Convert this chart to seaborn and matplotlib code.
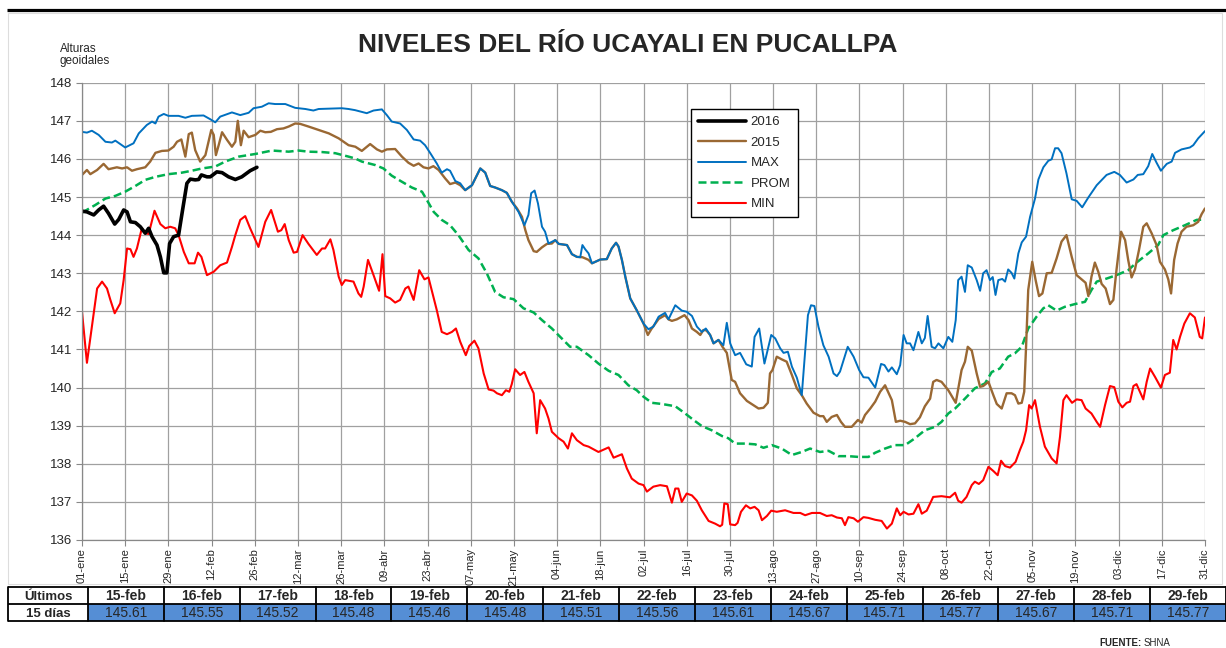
import numpy as np
import pandas as pd
import matplotlib
matplotlib.use("Agg")
import matplotlib.pyplot as plt
from matplotlib.patches import Rectangle
from matplotlib.lines import Line2D
import seaborn as sns

# ---------------- DATA ----------------
tick_days = [0, 14, 28, 42, 56, 70, 84, 98, 112, 126, 140, 154, 168, 182, 196,
             210, 224, 238, 252, 266, 280, 294, 308, 322, 336, 350, 364]
tick_labels = ["01-ene", "15-ene", "29-ene", "12-feb", "26-feb", "12-mar", "26-mar",
               "09-abr", "23-abr", "07-may", "21-may", "04-jun", "18-jun", "02-jul",
               "16-jul", "30-jul", "13-ago", "27-ago", "10-sep", "24-sep", "08-oct",
               "22-oct", "05-nov", "19-nov", "03-dic", "17-dic", "31-dic"]

days_2016 = [0, 1.6, 3.8, 5.4, 7, 8.6, 10.6, 11.9, 13.5, 14.6, 15.7, 17.3, 18.9, 20.5,
             21.6, 22.7, 24.3, 25.4, 26.5, 27.5, 28.4, 29.7, 31.3, 32.6, 34, 35.1, 36.7,
             37.8, 38.7, 40.5, 41.6, 43.7, 45.4, 47.5, 49.7, 51.8, 54.5, 56.7]
vals_2016 = [144.63, 144.61, 144.53, 144.66, 144.76, 144.57, 144.29, 144.41, 144.66,
             144.61, 144.35, 144.33, 144.22, 144.05, 144.18, 143.96, 143.74, 143.43,
             143.01, 143.01, 143.78, 143.96, 144.00, 144.66, 145.36, 145.47, 145.45,
             145.46, 145.58, 145.53, 145.53, 145.66, 145.64, 145.53, 145.46, 145.53,
             145.69, 145.78]

days_2015 = [0, 1.6, 2.7, 4.9, 7, 8.6, 11.3, 13, 14.6, 16.2, 17.8, 19.4, 20.5, 22.1, 23.8,
             25.9, 28, 29.7, 30.8, 32.2, 33.5, 34.6, 35.6, 36.7, 38.3, 40, 41, 41.9, 42.7,
             43.4, 44.3, 45.4, 47, 48.6, 49.7, 50.5, 51.5, 52.4, 54, 56.2, 57.8, 59.4,
             61.2, 63.2, 65.3, 67, 69.1, 70.7, 73.4, 76.7, 80, 83.2, 86.4, 88.6, 90.7,
             93.4, 95.6, 97.2, 98.8, 101.5, 103.7, 105.8, 107.5, 109.1, 110.7, 112.3,
             113.9, 115.6, 117.7, 119.3, 121, 122.6, 124.2, 126.4, 129.1, 130.7, 132.3,
             133.9, 136.1, 137.7, 139.3, 141, 142.6, 143.7, 144.7, 146.4, 147.4, 149.1,
             150.7, 152.3, 153.4, 154.5, 157.2, 158.8, 160.4, 162.2, 163.1, 164.2,
             165.3, 168, 170.1, 171.7, 173.1, 173.9, 175, 176.1, 177.7, 179.8, 182,
             183.4, 184.5, 186.9, 189, 190.1, 191.2, 192.8, 195.3, 196.6, 197.7, 199.3,
             200.4, 201.4, 202.4, 203.6, 204.7, 206.3, 207.6, 209, 210.6, 211.7, 213.3,
             215.5, 217.6, 219.3, 220.9, 222.3, 223, 223.8, 225.2, 226.8, 228.4, 230.1,
             231.7, 233.3, 234.9, 237.1, 239.2, 240.3, 241.4, 243, 244.7, 246, 247.3,
             249.5, 251.5, 252.7, 253.8, 255.5, 257.1, 258.7, 260.3, 262.5, 263.8,
             265.2, 266.8, 268.4, 270, 271.6, 273.2, 274.9, 275.9, 277, 278.6, 280.8,
             283.2, 285.1, 286.2, 287.1, 288.4, 290, 291.1, 292.1, 293.8, 295.4, 296.5,
             298.1, 299.7, 301.3, 302.4, 303.5, 304.6, 305.4, 306, 306.7, 308, 309.1,
             310.2, 311.3, 312.7, 314.3, 315.9, 317.5, 319.1, 320.8, 322.4, 324, 325.3,
             326.2, 327.2, 328.3, 329.4, 330.5, 331.8, 333.2, 334.3, 335.3, 336.8,
             338.1, 339.1, 340.2, 341.3, 342.6, 344, 345.1, 346.7, 348.3, 349.4, 351,
             352.1, 353, 354, 355.1, 356.4, 358, 360.2, 361.8, 362.9, 364]
vals_2015 = [145.58, 145.71, 145.60, 145.71, 145.87, 145.73, 145.78, 145.75, 145.78,
             145.69, 145.73, 145.76, 145.78, 145.93, 146.16, 146.21, 146.22, 146.32,
             146.45, 146.51, 146.06, 146.65, 146.69, 146.23, 145.93, 146.10, 146.45,
             146.76, 146.63, 146.10, 146.36, 146.70, 146.50, 146.32, 146.45, 147.00,
             146.36, 146.74, 146.57, 146.63, 146.74, 146.70, 146.71, 146.78, 146.80,
             146.85, 146.93, 146.92, 146.85, 146.76, 146.67, 146.54, 146.36, 146.32,
             146.21, 146.39, 146.25, 146.19, 146.25, 146.26, 146.06, 145.90, 145.82,
             145.88, 145.78, 145.75, 145.81, 145.71, 145.49, 145.34, 145.38, 145.31,
             145.18, 145.31, 145.75, 145.64, 145.29, 145.25, 145.18, 145.11, 144.88,
             144.70, 144.48, 144.13, 143.87, 143.58, 143.56, 143.68, 143.77, 143.78,
             143.87, 143.77, 143.74, 143.50, 143.43, 143.42, 143.39, 143.35, 143.26,
             143.36, 143.37, 143.65, 143.80, 143.70, 143.35, 142.91, 142.34, 142.03,
             141.68, 141.38, 141.53, 141.80, 141.90, 141.79, 141.75, 141.79, 141.90,
             141.77, 141.55, 141.46, 141.38, 141.51, 141.50, 141.38, 141.16, 141.25,
             141.07, 140.91, 140.20, 140.15, 139.85, 139.65, 139.54, 139.45, 139.47,
             139.60, 140.37, 140.46, 140.81, 140.74, 140.68, 140.33, 139.98, 139.80,
             139.58, 139.34, 139.25, 139.25, 139.10, 139.23, 139.28, 139.10, 138.97,
             138.97, 139.15, 139.08, 139.28, 139.45, 139.63, 139.89, 140.06, 139.67,
             139.10, 139.13, 139.10, 139.04, 139.06, 139.22, 139.51, 139.71, 140.15,
             140.20, 140.15, 139.93, 139.60, 140.46, 140.68, 141.07, 140.97, 140.37,
             140.02, 140.04, 140.15, 139.80, 139.57, 139.45, 139.85, 139.85, 139.80,
             139.58, 139.60, 139.89, 141.07, 142.56, 143.30, 142.82, 142.40, 142.47,
             143.00, 143.01, 143.39, 143.83, 144.00, 143.43, 142.95, 142.84, 142.75,
             142.40, 142.91, 143.28, 143.04, 142.72, 142.60, 142.19, 142.30, 143.08,
             144.09, 143.87, 143.35, 142.89, 143.10, 143.61, 144.22, 144.31, 144.05,
             143.74, 143.30, 143.10, 142.84, 142.47, 143.35, 143.78, 144.09, 144.22,
             144.26, 144.35, 144.55, 144.70]

days_max = [0, 1.6, 3.2, 5.4, 7.6, 9.7, 10.8, 12.4, 14, 16.7, 18.4, 21, 22.7, 23.8, 24.8,
            26.5, 28, 31.3, 33.5, 35.6, 39.4, 41.6, 43.2, 44.8, 48.6, 51.3, 54, 55.6,
            58.3, 60.5, 62.6, 65.9, 69.1, 72.4, 75, 76.7, 80, 84.2, 86.4, 88.5, 92.3,
            94.5, 97.2, 98.8, 100.4, 103.1, 105.3, 107.5, 109.6, 111.2, 112.9, 115,
            116.6, 118.3, 119.3, 121, 122.6, 124.2, 126.4, 129.1, 130.7, 132.3, 133.9,
            136.1, 137.7, 139.3, 141.5, 143.4, 144.7, 145.6, 146.7, 147.8, 149.1, 150.1,
            151.2, 153.4, 154.5, 157.2, 158.8, 160.4, 161.5, 162.2, 163.1, 164.2, 165.3,
            168, 170.1, 171.7, 173.1, 173.9, 175, 176.1, 177.7, 179.8, 182, 183.6,
            185.2, 186.9, 189, 190.1, 192.3, 194.4, 196, 197.7, 199.3, 200.9, 202.2,
            203.6, 204.7, 206.3, 207.9, 209, 210.1, 211.7, 213.3, 215.3, 217.1, 218,
            219.5, 221.2, 223.4, 224.7, 226.3, 227.4, 228.8, 230.1, 231.7, 233.3, 235.3,
            236.3, 237.4, 238.7, 240.3, 242, 243.6, 244.7, 245.7, 248.2, 250.1, 251.9,
            253.3, 254.9, 257.1, 259, 260.1, 261.4, 262.5, 264.1, 265.2, 266.3, 267.3,
            268.4, 269.5, 271.1, 272.2, 273.2, 274.1, 275.4, 276.5, 277.6, 279.2, 280.8,
            282.1, 283.2, 284, 285.1, 286.2, 287.1, 288.4, 290, 291.1, 292.1, 293.2,
            294.3, 295.2, 296.1, 297, 298.3, 299.2, 300.2, 301.3, 302.2, 303.5, 304.6,
            306, 307.3, 308.9, 310, 311.6, 313.2, 314.3, 315.4, 316.4, 317.5, 319.1,
            320.8, 322.4, 324.2, 326.2, 328.9, 332.1, 334.6, 336.4, 338.6, 340.8, 342.2,
            344, 345.6, 346.9, 348.3, 349.7, 351.6, 353.2, 354.3, 356.4, 359.1, 360.2,
            361.8, 364]
vals_max = [146.71, 146.69, 146.74, 146.63, 146.45, 146.43, 146.48, 146.39, 146.30,
            146.41, 146.67, 146.89, 146.98, 146.93, 147.11, 147.18, 147.13, 147.13,
            147.08, 147.13, 147.14, 147.04, 146.96, 147.11, 147.22, 147.15, 147.21,
            147.33, 147.37, 147.46, 147.44, 147.44, 147.34, 147.31, 147.27, 147.31,
            147.32, 147.33, 147.31, 147.28, 147.20, 147.27, 147.30, 147.15, 146.98,
            146.93, 146.76, 146.51, 146.48, 146.36, 146.15, 145.88, 145.64, 145.73,
            145.69, 145.42, 145.36, 145.18, 145.31, 145.75, 145.64, 145.29, 145.25,
            145.18, 145.11, 144.88, 144.61, 144.26, 144.53, 145.10, 145.17, 144.83,
            144.22, 144.09, 143.78, 143.87, 143.77, 143.74, 143.50, 143.43, 143.42,
            143.74, 143.63, 143.52, 143.26, 143.36, 143.37, 143.65, 143.80, 143.70,
            143.35, 142.91, 142.34, 142.03, 141.68, 141.53, 141.60, 141.86, 141.96,
            141.79, 142.16, 142.02, 141.99, 141.88, 141.60, 141.46, 141.55, 141.38,
            141.16, 141.25, 141.11, 141.70, 141.16, 140.85, 140.91, 140.61, 140.55,
            141.33, 141.55, 140.63, 141.38, 141.29, 141.03, 140.91, 140.94, 140.55,
            140.26, 139.80, 141.90, 142.16, 142.14, 141.60, 141.11, 140.81, 140.37,
            140.30, 140.42, 141.07, 140.81, 140.46, 140.27, 140.26, 140.00, 140.62,
            140.59, 140.42, 140.53, 140.35, 140.59, 141.38, 141.16, 141.16, 140.98,
            141.46, 141.16, 141.30, 141.88, 141.07, 141.03, 141.16, 141.03, 141.33,
            141.20, 141.77, 142.82, 142.91, 142.51, 143.21, 143.15, 142.82, 142.54,
            143.00, 143.08, 142.82, 142.90, 142.43, 142.82, 142.85, 142.78, 143.10,
            143.01, 142.86, 143.52, 143.81, 143.96, 144.48, 144.96, 145.46, 145.78,
            145.95, 145.99, 146.28, 146.28, 146.15, 145.62, 144.94, 144.90, 144.73,
            144.99, 145.31, 145.58, 145.66, 145.58, 145.38, 145.46, 145.58, 145.60,
            145.81, 146.13, 145.90, 145.69, 145.87, 145.93, 146.16, 146.25, 146.30,
            146.36, 146.54, 146.73]

days_prom = [0, 4.3, 7.6, 10.8, 14, 17.3, 20.5, 23.8, 28, 32.4, 35.6, 38.9, 43.2, 46.4,
             50.8, 56.2, 61.6, 67, 70.2, 73.4, 77.8, 82.1, 86.4, 88.6, 90.7, 95, 97.7,
             100.4, 103.7, 106.9, 110.2, 111.8, 114, 116.6, 119.3, 122, 125.3, 128.5,
             131.2, 133.9, 136.6, 139.9, 143.1, 146.4, 149.1, 152.3, 155, 158.2, 160.4,
             164.2, 167.4, 170.7, 173.9, 177.1, 179.8, 182, 184.7, 187.9, 192.3, 195.5,
             198.2, 200.9, 204.1, 207.4, 209.5, 211.7, 215, 218.2, 220.9, 223.6, 226.8,
             230.1, 233.3, 236, 239.2, 242, 245.2, 248.4, 251.7, 254.9, 257.1, 260.3,
             263.5, 266.8, 270, 273.2, 276.5, 278.6, 280.8, 283, 286.2, 289.4, 292.7,
             294.9, 297.5, 300.2, 302.4, 304.6, 306.7, 309.4, 311.6, 313.2, 315.9,
             318.6, 321.8, 325.1, 327.2, 328.9, 332.1, 335.3, 339.1, 341.8, 345.6,
             348.8, 350.5, 353.7, 357.5, 361.3, 364]
vals_prom = [144.59, 144.79, 144.96, 145.03, 145.14, 145.29, 145.45, 145.53, 145.60,
             145.64, 145.69, 145.75, 145.80, 145.93, 146.06, 146.13, 146.22, 146.19,
             146.22, 146.19, 146.18, 146.15, 146.06, 146.01, 145.93, 145.84, 145.75,
             145.56, 145.40, 145.25, 145.14, 144.92, 144.61, 144.40, 144.26, 144.00,
             143.61, 143.39, 143.00, 142.51, 142.37, 142.32, 142.08, 141.97, 141.77,
             141.55, 141.33, 141.07, 141.07, 140.85, 140.63, 140.44, 140.33, 140.06,
             139.93, 139.76, 139.60, 139.57, 139.51, 139.32, 139.15, 138.99, 138.88,
             138.73, 138.67, 138.53, 138.53, 138.51, 138.42, 138.49, 138.40, 138.23,
             138.31, 138.40, 138.31, 138.34, 138.20, 138.20, 138.18, 138.18, 138.29,
             138.40, 138.49, 138.49, 138.67, 138.88, 138.97, 139.10, 139.32, 139.45,
             139.71, 139.98, 140.11, 140.41, 140.50, 140.81, 140.90, 141.07, 141.55,
             141.86, 142.08, 142.16, 142.02, 142.12, 142.19, 142.25, 142.56, 142.78,
             142.86, 142.95, 143.08, 143.28, 143.52, 143.74, 144.00, 144.13, 144.26,
             144.40, 144.41]

days_min = [0, 1.6, 3.2, 4.9, 6.5, 8.1, 9.2, 10.6, 12.4, 13.5, 14.6, 15.7, 16.7, 17.8,
            19.4, 20.5, 21.6, 23.5, 25.4, 27, 28.6, 30.2, 31.3, 33, 34.6, 36.5, 37.6,
            38.7, 40.5, 42.7, 44.8, 47, 48.6, 49.7, 51.3, 52.9, 54.5, 57.2, 59.4, 61.3,
            63.5, 64.6, 65.7, 67, 68.6, 69.7, 71.5, 73.4, 76.1, 77.8, 78.8, 80.5, 81.5,
            83.2, 84.2, 85.3, 88, 89.6, 90.5, 91.3, 92.7, 94.5, 96.3, 97.4, 98.3, 99.9,
            101.5, 103.1, 104.8, 105.8, 107.5, 109.3, 111, 112.3, 115, 116.6, 118.3,
            119.9, 121.2, 122.6, 124.4, 125.5, 127.2, 128.5, 130.2, 131.8, 133.4, 134.5,
            136.1, 137.4, 138.5, 139.3, 140.4, 142, 143.4, 144.7, 146.4, 147.4, 148.5,
            150.1, 151.2, 152.3, 154.5, 156.1, 157.5, 158.8, 160.4, 162.6, 164.2, 167.4,
            170.7, 172.3, 175, 176.6, 178.2, 180.4, 182, 183.1, 185.2, 187.4, 189.6,
            191.2, 192.3, 193.3, 194.4, 196, 197.7, 199.3, 200.9, 203.1, 205.2, 206.8,
            207.5, 208.2, 209.3, 210.1, 211.7, 212.5, 213.6, 215.2, 216.6, 218, 219.3,
            220.4, 222, 223.4, 225.2, 227.9, 230.6, 232.8, 234.4, 236.6, 239.2, 241.4,
            243, 244.7, 246.3, 247.3, 248.4, 250.1, 251.5, 253.3, 254.9, 257.1, 259.2,
            260.9, 262.5, 264.1, 265.2, 266.3, 267.9, 269.5, 271.1, 272.2, 273.8, 274.9,
            275.9, 278.6, 281.3, 283, 284, 285.1, 286.7, 288.4, 289.4, 290.7, 292.1,
            293.8, 295.4, 296.8, 297.9, 299.2, 300.8, 302.6, 304, 305.1, 306, 307,
            307.8, 308.9, 310.5, 312.1, 314.3, 315.9, 317, 318.1, 319.1, 320.9, 322.4,
            324, 325.3, 327.2, 328.9, 330, 331.6, 333.2, 334.6, 335.9, 337.2, 338.6,
            339.7, 340.8, 341.8, 344, 345.1, 346.2, 347.8, 349.7, 351, 352.6, 353.7,
            354.8, 355.9, 357.3, 359.1, 360.7, 362.3, 363.1, 364]
vals_min = [141.99, 140.65, 141.60, 142.60, 142.78, 142.60, 142.30, 141.95, 142.21,
            142.82, 143.65, 143.63, 143.43, 143.65, 144.18, 144.05, 144.03, 144.64,
            144.29, 144.18, 144.22, 144.18, 144.00, 143.56, 143.26, 143.26, 143.54,
            143.43, 142.95, 143.04, 143.21, 143.28, 143.69, 144.00, 144.40, 144.50,
            144.18, 143.69, 144.35, 144.66, 144.09, 144.13, 144.29, 143.87, 143.54,
            143.56, 144.00, 143.77, 143.48, 143.65, 143.65, 143.89, 143.61, 142.91,
            142.69, 142.82, 142.78, 142.47, 142.38, 142.65, 143.35, 142.95, 142.54,
            143.50, 142.40, 142.34, 142.23, 142.30, 142.60, 142.65, 142.30, 143.08,
            142.84, 142.89, 142.03, 141.46, 141.40, 141.46, 141.55, 141.20, 140.85,
            141.09, 141.23, 141.03, 140.37, 139.95, 139.92, 139.85, 139.80, 139.93,
            139.89, 140.09, 140.48, 140.33, 140.41, 140.15, 139.85, 138.80, 139.67,
            139.45, 139.19, 138.84, 138.67, 138.58, 138.40, 138.80, 138.62, 138.49,
            138.45, 138.31, 138.43, 138.16, 138.25, 137.88, 137.61, 137.48, 137.44,
            137.27, 137.40, 137.44, 137.41, 136.98, 137.35, 137.35, 137.00, 137.22,
            137.17, 137.03, 136.78, 136.50, 136.43, 136.36, 136.40, 136.96, 136.94,
            136.41, 136.39, 136.45, 136.74, 136.91, 136.83, 136.87, 136.78, 136.52,
            136.63, 136.77, 136.74, 136.78, 136.71, 136.71, 136.65, 136.71, 136.71,
            136.63, 136.65, 136.59, 136.57, 136.39, 136.60, 136.57, 136.48, 136.60,
            136.58, 136.53, 136.50, 136.30, 136.43, 136.83, 136.65, 136.74, 136.67,
            136.69, 136.94, 136.69, 136.77, 136.96, 137.13, 137.15, 137.12, 137.24,
            137.03, 136.98, 137.13, 137.44, 137.53, 137.47, 137.57, 137.92, 137.81,
            137.70, 138.08, 137.94, 137.90, 138.05, 138.36, 138.58, 138.88, 139.54,
            139.45, 139.67, 138.97, 138.45, 138.14, 138.01, 138.71, 139.67, 139.80,
            139.60, 139.69, 139.67, 139.45, 139.32, 139.10, 138.97, 139.54, 140.04,
            140.01, 139.63, 139.48, 139.60, 139.63, 140.04, 140.09, 139.69, 140.15,
            140.50, 140.28, 140.00, 140.33, 140.39, 141.25, 141.00, 141.33, 141.68,
            141.95, 141.84, 141.33, 141.29, 141.84]

table_dates = ["15-feb", "16-feb", "17-feb", "18-feb", "19-feb", "20-feb", "21-feb",
               "22-feb", "23-feb", "24-feb", "25-feb", "26-feb", "27-feb", "28-feb",
               "29-feb"]
table_values = [145.61, 145.55, 145.52, 145.48, 145.46, 145.48, 145.51, 145.56, 145.61,
                145.67, 145.71, 145.77, 145.67, 145.71, 145.77]

# ---------------- STYLE ----------------
sns.set_style("white")
plt.rcParams['font.family'] = ['Liberation Sans', 'DejaVu Sans']

W, H = 1226, 648
fig = plt.figure(figsize=(W / 100, H / 100), dpi=100)

# overlay for frame / table (pixel coordinates)
ov = fig.add_axes([0, 0, 1, 1], zorder=0)
ov.set_xlim(0, W)
ov.set_ylim(H, 0)
ov.axis('off')
ov.add_patch(Rectangle((8, 13), 1214, 571, fill=False, edgecolor='#DDDDDD', lw=0.8))
ov.plot([7, W], [10, 10], color='black', lw=2.3, solid_capstyle='butt')

ax = fig.add_axes([82 / W, 1 - 540 / H, (1205 - 82) / W, (540 - 82.7) / H], zorder=2)
ax.patch.set_alpha(0)

colors = {"2016": "black", "2015": "#9A6833", "MAX": "#0070C0",
          "PROM": "#00B050", "MIN": "#FF0000"}
dash = (0, (3.2, 1.6))

sns.lineplot(x=days_min, y=vals_min, ax=ax, color=colors["MIN"], lw=1.5,
             estimator=None, sort=False)
sns.lineplot(x=days_prom, y=vals_prom, ax=ax, color=colors["PROM"], lw=1.8,
             linestyle=dash, estimator=None, sort=False)
sns.lineplot(x=days_2015, y=vals_2015, ax=ax, color=colors["2015"], lw=1.7,
             estimator=None, sort=False)
sns.lineplot(x=days_max, y=vals_max, ax=ax, color=colors["MAX"], lw=1.4,
             estimator=None, sort=False)
sns.lineplot(x=days_2016, y=vals_2016, ax=ax, color=colors["2016"], lw=2.6,
             estimator=None, sort=False)

ax.set_xlim(0, 364)
ax.set_ylim(136, 148)
ax.set_xticks(tick_days)
ax.set_xticklabels(tick_labels, rotation=90, fontsize=8)
ax.set_yticks(range(136, 149))
ax.tick_params(axis='y', labelsize=9.5, length=4, color='#888888', pad=3, direction='out', left=True)
ax.tick_params(axis='x', length=4, color='#888888', pad=2, direction='out', bottom=True)
ax.grid(True, color='#A0A0A0', lw=0.9)
ax.set_axisbelow(True)
for s in ['top', 'right']:
    ax.spines[s].set_visible(False)
for s in ['left', 'bottom']:
    ax.spines[s].set_color('#888888')
    ax.spines[s].set_linewidth(0.9)
ax.set_xlabel("")
ax.set_ylabel("")

handles = [
    Line2D([], [], color=colors["2016"], lw=2.6),
    Line2D([], [], color=colors["2015"], lw=1.7),
    Line2D([], [], color=colors["MAX"], lw=1.4),
    Line2D([], [], color=colors["PROM"], lw=1.8, linestyle=dash),
    Line2D([], [], color=colors["MIN"], lw=1.5),
]
leg = ax.legend(handles, ["2016", "2015", "MAX", "PROM", "MIN"],
                loc='upper left', bbox_to_anchor=(691 / W, 1 - 109 / H),
                bbox_transform=fig.transFigure, fontsize=9.5, handlelength=3.6,
                handletextpad=0.35, labelspacing=0.62, borderpad=0.55,
                borderaxespad=0, fancybox=False, framealpha=1, edgecolor='black')
leg.get_frame().set_linewidth(1.0)

fig.text(0.512, 1 - 45 / H, "NIVELES DEL RÍO UCAYALI EN PUCALLPA", ha='center',
         va='center', fontsize=19, fontweight='bold')
fig.text(60 / W, 1 - 55 / H, "Alturas\ngeoidales", ha='left', va='center',
         fontsize=8.5, linespacing=1.05)

# ---------------- TABLE ----------------
x0, x1 = 88, 1226
cw = (x1 - x0) / len(table_dates)
r0, r1, r2 = 587, 603.5, 620.5
b1, b2 = 600.5, 617.0   # text baselines
for i, (dlab, v) in enumerate(zip(table_dates, table_values)):
    cx = x0 + i * cw
    ov.add_patch(Rectangle((cx, r1), cw, r2 - r1, facecolor='#558ED5', edgecolor='none',
                           zorder=1))
for yy in [r0, r1, r2]:
    ov.plot([8, W], [yy, yy], color='black', lw=1.3, solid_capstyle='butt', zorder=2)
for i in range(len(table_dates) + 1):
    xx = x0 + i * cw
    ov.plot([xx, xx], [r0, r2], color='black', lw=1.3, zorder=2)
ov.plot([8, 8], [r0, r2], color='black', lw=1.3, zorder=2)

ov.text(48, b1, "Últimos", ha='center', va='baseline', fontsize=9.5, fontweight='bold',
        zorder=5)
ov.text(48, b2, "15 días", ha='center', va='baseline', fontsize=9.5, fontweight='bold',
        zorder=5)
for i, (dlab, v) in enumerate(zip(table_dates, table_values)):
    cx = x0 + i * cw
    ov.text(cx + cw / 2, b1, dlab, ha='center', va='baseline', fontsize=10,
            fontweight='bold', zorder=5)
    ov.text(cx + cw / 2, b2, f"{v:.2f}", ha='center', va='baseline', fontsize=10, zorder=5)

src = ov.text(1099, 643, "FUENTE:", ha='left', va='center', fontsize=7, fontweight='bold')
ov.annotate("SHNA", xy=(1, 0.5), xycoords=src, xytext=(2, 0), textcoords='offset points',
            ha='left', va='center', fontsize=7)

fig.savefig("out.png", dpi=100)
